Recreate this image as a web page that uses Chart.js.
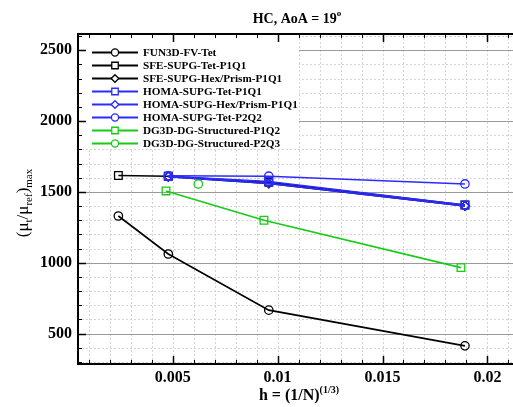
<!DOCTYPE html>
<html>
<head>
<meta charset="utf-8">
<script src="https://cdn.jsdelivr.net/npm/chart.js@4.4.0/dist/chart.umd.min.js"></script>
<style>
  html, body { margin: 0; padding: 0; background: #fff; }
  #wrap { width: 513px; height: 407px; }
</style>
</head>
<body>
<div id="wrap"><canvas id="grafico" width="513" height="407"></canvas></div>
<script>
// datos
const seriesNames = [
    "FUN3D-FV-Tet",
    "SFE-SUPG-Tet-P1Q1",
    "SFE-SUPG-Hex/Prism-P1Q1",
    "HOMA-SUPG-Tet-P1Q1",
    "HOMA-SUPG-Hex/Prism-P1Q1",
    "HOMA-SUPG-Tet-P2Q2",
    "DG3D-DG-Structured-P1Q2",
    "DG3D-DG-Structured-P2Q3"
];

const hFun3d = [0.00241, 0.00479, 0.00958, 0.01893];
const muFun3d = [1330, 1062, 666, 414];

const hSfeTet = [0.00241, 0.00479, 0.00958, 0.01893];
const muSfeTet = [1616, 1611, 1568, 1408];

const hSfeHex = [0.00479, 0.00958, 0.01893];
const muSfeHex = [1608, 1560, 1401];

const hHomaTet = [0.00479, 0.00958, 0.01893];
const muHomaTet = [1611, 1574, 1408];

const hHomaHex = [0.00479, 0.00958, 0.01893];
const muHomaHex = [1607, 1560, 1401];

const hHomaP2 = [0.00479, 0.00958, 0.01893];
const muHomaP2 = [1614, 1611, 1556];

const hDgP1 = [0.00468, 0.00935, 0.01874];
const muDgP1 = [1507, 1300, 966];

const hDgP2 = [0.00622];
const muDgP2 = [1556];

const xTickLabels = ["0.005", "0.01", "0.015", "0.02"];
const yTickLabels = ["500", "1000", "1500", "2000", "2500"];

const negro = "#000000";
const azul = "#2b2bff";
const verde = "#16cc16";

function puntos(xs, ys) {
    return xs.map((x, i) => ({ x: x, y: ys[i] }));
}

function serie(i, xs, ys, color, estilo, radio, orden, linea) {
    return {
        label: seriesNames[i],
        data: puntos(xs, ys),
        borderColor: color,
        backgroundColor: "rgba(0,0,0,0)",
        borderWidth: 1.6,
        pointStyle: estilo,
        pointRadius: radio,
        pointBorderWidth: 1.3,
        pointBorderColor: color,
        pointBackgroundColor: "rgba(0,0,0,0)",
        showLine: linea,
        tension: 0,
        order: orden
    };
}

const datasets = [
    serie(0, hFun3d, muFun3d, negro, "circle", 4.2, 5, true),
    serie(1, hSfeTet, muSfeTet, negro, "rect", 5.4, 5, true),
    serie(2, hSfeHex, muSfeHex, negro, "rectRot", 4.5, 5, true),
    serie(3, hHomaTet, muHomaTet, azul, "rect", 5.4, 2, true),
    serie(4, hHomaHex, muHomaHex, azul, "rectRot", 4.5, 2, true),
    serie(5, hHomaP2, muHomaP2, azul, "circle", 4.2, 2, true),
    serie(6, hDgP1, muDgP1, verde, "rect", 5.4, 3, true),
    serie(7, hDgP2, muDgP2, verde, "circle", 4.2, 3, false)
];

const serif = "'Liberation Serif', 'DejaVu Serif', serif";

// texto con sub/superindices, centrado en cx
function textoRico(ctx, partes, cx, cy) {
    let total = 0;
    partes.forEach(p => { ctx.font = p.font; total += ctx.measureText(p.t).width; });
    let x = cx - total / 2;
    partes.forEach(p => {
        ctx.font = p.font;
        ctx.fillText(p.t, x, cy + (p.dy || 0));
        x += ctx.measureText(p.t).width;
    });
}

const fondoYRejilla = {
    id: "fondoYRejilla",
    beforeDatasetsDraw(chart) {
        const ctx = chart.ctx;
        const a = chart.chartArea;
        const xs = chart.scales.x, ys = chart.scales.y;
        ctx.save();
        ctx.lineWidth = 1;
        // rejilla menor vertical
        ctx.strokeStyle = "#d4d4d4";
        ctx.setLineDash([2, 2]);
        for (let v = 0.001; v < xs.max; v += 0.001) {
            const px = Math.round(xs.getPixelForValue(v)) + 0.5;
            if (px <= a.left + 1) continue;
            ctx.beginPath(); ctx.moveTo(px, a.top); ctx.lineTo(px, a.bottom); ctx.stroke();
        }
        // rejilla horizontal
        for (let v = 300; v < ys.max; v += 100) {
            const py = Math.round(ys.getPixelForValue(v)) + 0.5;
            if (v % 500 === 0) {
                ctx.setLineDash([]);
                ctx.strokeStyle = "#9a9a9a";
            } else {
                ctx.setLineDash([2, 2]);
                ctx.strokeStyle = "#d4d4d4";
            }
            ctx.beginPath(); ctx.moveTo(a.left, py); ctx.lineTo(a.right, py); ctx.stroke();
        }
        ctx.restore();
    },
    afterDatasetsDraw(chart) {
        const ctx = chart.ctx;
        const a = chart.chartArea;
        const xs = chart.scales.x, ys = chart.scales.y;
        ctx.save();
        // caja de leyenda
        ctx.fillStyle = "#ffffff";
        ctx.fillRect(a.left + 1, a.top + 1, 298 - a.left, 147 - a.top);
        const y0 = 52.5, paso = 13.0;
        chart.data.datasets.forEach((ds, i) => {
            const y = y0 + i * paso;
            ctx.strokeStyle = ds.borderColor;
            ctx.lineWidth = 1.8;
            ctx.setLineDash([]);
            ctx.beginPath(); ctx.moveTo(92, y); ctx.lineTo(138, y); ctx.stroke();
            ctx.lineWidth = 1.3;
            ctx.fillStyle = "#ffffff";
            Chart.helpers.drawPoint(ctx, {
                pointStyle: ds.pointStyle,
                radius: ds.pointRadius * 0.85,
                borderWidth: 1.3,
                rotation: 0
            }, 115, y);
            ctx.fillStyle = "#000";
            ctx.font = "bold 11.2px " + serif;
            ctx.textBaseline = "middle";
            ctx.textAlign = "left";
            ctx.fillText(ds.label, 143, y + 0.5);
        });
        // marcas hacia dentro
        ctx.strokeStyle = "#000";
        ctx.lineWidth = 1;
        for (let v = 300; v < ys.max; v += 100) {
            const py = Math.round(ys.getPixelForValue(v)) + 0.5;
            const largo = v % 500 === 0 ? 8 : 4;
            ctx.lineWidth = v % 500 === 0 ? 1.5 : 1;
            ctx.beginPath(); ctx.moveTo(a.left, py); ctx.lineTo(a.left + largo, py); ctx.stroke();
        }
        for (let k = 1; k * 0.001 < xs.max; k++) {
            const v = k * 0.001;
            const px = Math.round(xs.getPixelForValue(v)) + 0.5;
            const largo = k % 5 === 0 ? 8 : 4;
            ctx.lineWidth = k % 5 === 0 ? 1.5 : 1;
            ctx.beginPath(); ctx.moveTo(px, a.bottom); ctx.lineTo(px, a.bottom - largo); ctx.stroke();
            ctx.beginPath(); ctx.moveTo(px, a.top); ctx.lineTo(px, a.top + largo); ctx.stroke();
        }
        // borde superior
        ctx.lineWidth = 2;
        ctx.beginPath(); ctx.moveTo(a.left - 1, a.top); ctx.lineTo(a.right, a.top); ctx.stroke();
        ctx.restore();
    },
    afterDraw(chart) {
        const ctx = chart.ctx;
        const xs = chart.scales.x;
        ctx.save();
        ctx.fillStyle = "#000";
        ctx.textBaseline = "alphabetic";
        // etiquetas del eje x
        ctx.font = "bold 16px " + serif;
        ctx.textAlign = "center";
        xTickLabels.forEach(t => {
            ctx.fillText(t, xs.getPixelForValue(parseFloat(t)), 382);
        });
        ctx.textAlign = "left";
        // titulo
        textoRico(ctx, [
            { t: "HC, AoA = 19", font: "bold 14px " + serif },
            { t: "o", font: "bold 9px " + serif, dy: -7 }
        ], 297, 23);
        // titulo eje x
        textoRico(ctx, [
            { t: "h = (1/N)", font: "bold 16px " + serif },
            { t: "(1/3)", font: "bold 10px " + serif, dy: -7 }
        ], 299, 400);
        // titulo eje y
        ctx.translate(28, 203);
        ctx.rotate(-Math.PI / 2);
        textoRico(ctx, [
            { t: "(μ", font: "17px " + serif },
            { t: "t", font: "11px " + serif, dy: 4 },
            { t: "/μ", font: "17px " + serif },
            { t: "ref", font: "11px " + serif, dy: 4 },
            { t: ")", font: "17px " + serif },
            { t: "max", font: "11px " + serif, dy: 4 }
        ], 0, 0);
        ctx.restore();
    }
};

new Chart(document.getElementById("grafico"), {
    type: "line",
    data: { datasets: datasets },
    options: {
        responsive: false,
        animation: false,
        layout: { autoPadding: false, padding: { top: 34, right: 0, bottom: 0, left: 0 } },
        plugins: {
            legend: { display: false },
            title: { display: false },
            tooltip: { enabled: false }
        },
        scales: {
            x: {
                type: "linear",
                min: 0.000486,
                max: 0.02122,
                afterFit: (scale) => { scale.height = 43; },
                ticks: { display: false },
                grid: { display: false, drawTicks: false },
                border: { display: true, color: "#000", width: 2 }
            },
            y: {
                type: "linear",
                min: 286,
                max: 2614,
                afterBuildTicks: (axis) => { axis.ticks = yTickLabels.map(t => ({ value: parseFloat(t) })); },
                afterFit: (scale) => { scale.width = 78; },
                ticks: {
                    callback: (v, i) => yTickLabels[i],
                    color: "#000",
                    font: { family: serif, size: 16, weight: "bold" },
                    padding: 6,
                    autoSkip: false
                },
                grid: { display: false, drawTicks: false },
                border: { display: true, color: "#000", width: 2 }
            }
        }
    },
    plugins: [fondoYRejilla]
});
</script>
</body>
</html>
